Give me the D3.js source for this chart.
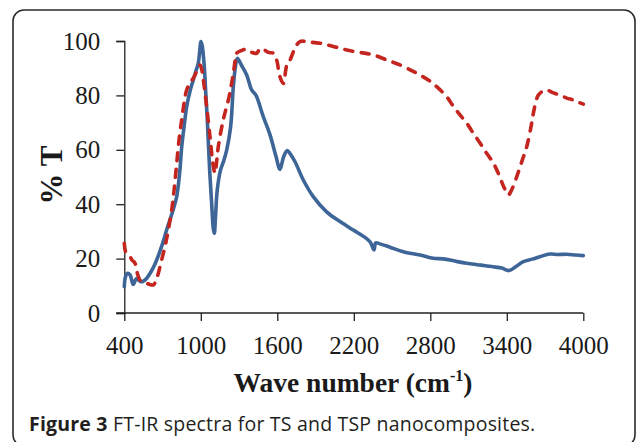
<!DOCTYPE html>
<html><head><meta charset="utf-8">
<script src="https://cdn.jsdelivr.net/npm/d3@7"></script>
<style>html,body{margin:0;padding:0;background:#fff;}svg{display:block;}</style>
</head><body>
<script>
// ---- data ----
const xTicks = [400, 1000, 1600, 2200, 2800, 3400, 4000];
const yTicks = [0, 20, 40, 60, 80, 100];

const tsWave = [400,410,425,445,470,496,520,540,576,620,654,700,732,780,811,835,850,870,889,915,941,965,980,992,1000,1010,1025,1040,1051,1070,1085,1098,1106,1115,1129,1155,1180,1203,1234,1255,1270,1286,1320,1360,1399,1433,1490,1543,1590,1621,1650,1678,1700,1739,1804,1882,1987,2092,2196,2288,2330,2358,2372,2400,2484,2588,2719,2823,2901,3000,3085,3200,3294,3360,3417,3470,3530,3600,3660,3739,3800,3870,3940,4000];
const tsT    = [9.7,13.5,14.6,14.0,10.5,12.7,11.8,11.5,12.8,16.0,19.5,25.5,30.5,37.5,42.8,52,61,69,75.8,81.5,85.7,89.5,91.8,96.5,99.8,98.5,92,80,71,52,40.4,31,29.3,35,45.2,52.6,56,59.9,68.5,83.2,90,93.6,91,87.5,82,80,72.2,65.5,57.5,52.8,57.5,59.7,58.6,55.6,48.9,42.8,37.2,33.6,30.5,27.8,26,23.2,25.8,25.5,24.2,22.5,21.3,20.1,19.9,19.0,18.3,17.6,17.0,16.5,15.6,17,18.9,19.8,20.7,21.7,21.5,21.6,21.3,21.1];

const tspWave = [400,410,425,445,460,484,500,523,550,576,600,627,645,667,690,719,745,772,790,811,830,850,870,889,915,941,965,994,1005,1020,1046,1072,1095,1111,1125,1137,1176,1216,1240,1255,1270,1281,1320,1359,1400,1438,1465,1490,1530,1569,1595,1620,1647,1674,1700,1740,1778,1850,1935,2040,2144,2250,2353,2460,2562,2650,2719,2790,2850,2929,2980,3033,3090,3137,3190,3242,3290,3333,3380,3412,3440,3478,3520,3556,3590,3608,3630,3647,3680,3713,3760,3817,3870,3922,3960,4000];
const tspT    = [25.6,22.5,21.5,20.7,19.5,18.3,15,12.1,11.4,10.9,10.5,10.3,11.5,14.6,19,24.4,30.5,37.9,45,55,64,71,77.5,82,84.5,86.3,88.5,91.2,90,85.7,75.8,64.8,55,51.4,56,61.1,71,78.3,84,88.1,93,95.5,96.5,97,95.8,95.5,97.2,97,95.8,95.5,93,87,84.4,91,93,97.5,99.8,99.6,99.2,98,96.7,95.8,94.9,93,91.2,89.2,87.5,85.5,83.2,79.5,76,72.8,69.5,66.1,62.5,58.7,55.5,51.4,46,43.4,45.5,50.1,56,61.1,68.5,73.4,78,80.1,81.5,82,81,80.1,79,78.3,77.5,76.8];

const xTitle = "Wave number (cm";
const yTitle = "% T";
const captionBold = "Figure 3";
const captionRest = " FT-IR spectra for TS and TSP nanocomposites.";

// ---- drawing ----
const W = 637, H = 442;
const svg = d3.select("body").append("svg").attr("width", W).attr("height", H);

svg.append("rect").attr("x", 13).attr("y", 10).attr("width", 622).attr("height", 436)
  .attr("rx", 11).attr("ry", 11).attr("fill", "#fff").attr("stroke", "#2b2b2b").attr("stroke-width", 1.6);

const x = d3.scaleLinear().domain([400, 4000]).range([124.3, 583.3]);
const y = d3.scaleLinear().domain([0, 100]).range([313, 41]);

const serif = "'Liberation Serif','Times New Roman',serif";

const xAxis = svg.append("g").attr("transform", `translate(0,${y(0)})`)
  .call(d3.axisBottom(x).tickValues(xTicks).tickFormat(d3.format("d")).tickSizeOuter(0).tickSize(8).tickPadding(15));
const yAxis = svg.append("g").attr("transform", `translate(${x(400)},0)`)
  .call(d3.axisLeft(y).tickValues(yTicks).tickSizeOuter(0).tickSize(8).tickPadding(16));
[xAxis, yAxis].forEach(g => {
  g.select(".domain").attr("stroke", "#222").attr("stroke-width", 1.3);
  g.selectAll(".tick line").attr("stroke", "#222").attr("stroke-width", 1.3);
  g.selectAll(".tick text").attr("font-family", serif).attr("font-size", 25).attr("fill", "#1a1a1a");
});
xAxis.select(".domain").attr("d", `M${x(400) - 8},0H${x(4000)}`);

const line = d3.line().curve(d3.curveCatmullRom.alpha(0.5)).x(d => x(d[0])).y(d => y(d[1]));

svg.append("path").datum(tsWave.map((w, i) => [w, tsT[i]]))
  .attr("d", line).attr("fill", "none").attr("stroke", "#3d6597").attr("stroke-width", 3.6)
  .attr("stroke-linejoin", "round").attr("stroke-linecap", "round");

svg.append("path").datum(tspWave.map((w, i) => [w, tspT[i]]))
  .attr("d", line).attr("fill", "none").attr("stroke", "#c4261f").attr("stroke-width", 3.6)
  .attr("stroke-dasharray", "8,8.6").attr("stroke-linecap", "round").attr("stroke-linejoin", "round");

// axis titles
const xt = svg.append("text").attr("x", 353).attr("y", 392).attr("text-anchor", "middle")
  .attr("font-family", serif).attr("font-size", 27.5).attr("font-weight", "bold").attr("fill", "#1a1a1a");
xt.append("tspan").text(xTitle);
xt.append("tspan").attr("font-size", 16).attr("dy", -11).text("-1");
xt.append("tspan").attr("dy", 11).text(")");

svg.append("text").attr("transform", "translate(62,175) rotate(-90)").attr("text-anchor", "middle")
  .attr("font-family", serif).attr("font-size", 31).attr("font-weight", "bold").attr("fill", "#1a1a1a")
  .text(yTitle);

// caption
const cap = svg.append("text").attr("x", 29).attr("y", 431)
  .attr("font-family", "'Open Sans','Noto Sans',sans-serif").attr("font-size", 19.5)
  .attr("letter-spacing", 0.2).attr("fill", "#231f20");
cap.append("tspan").attr("font-weight", "bold").text(captionBold);
cap.append("tspan").text(captionRest);
</script>
</body></html>
